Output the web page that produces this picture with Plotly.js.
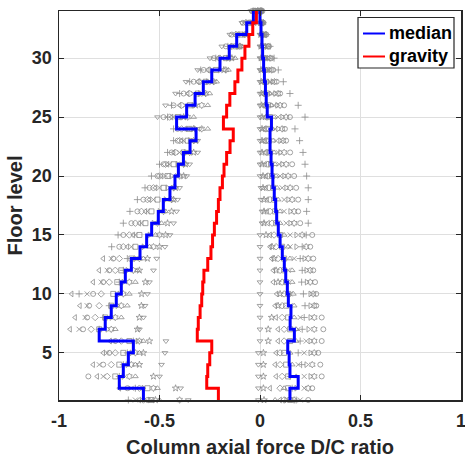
<!DOCTYPE html>
<html>
<head>
<meta charset="utf-8">
<script src="https://cdn.plot.ly/plotly-3.0.1.min.js"></script>
<style>html,body{margin:0;padding:0;background:#fff;}#chart{width:465px;height:459px;}</style>
</head>
<body>
<div id="chart"></div>
<script>
// Floor levels (rows)
const floors = [1,2,3,4,5,6,7,8,9,10,11,12,13,14,15,16,17,18,19,20,21,22,23,24,25,26,27,28,29,30,31,32,33,34];

// Median stair values (value holds from floor i up to floor i+1)
const medianLeft = [-0.58,-0.70,-0.68,-0.655,-0.63,-0.80,-0.77,-0.74,-0.715,-0.69,-0.67,-0.64,-0.597,-0.564,-0.539,-0.506,-0.481,-0.448,-0.423,-0.406,-0.381,-0.348,-0.318,-0.415,-0.365,-0.323,-0.282,-0.24,-0.199,-0.153,-0.116,-0.066,-0.033,-0.033];
const medianRight = [0.149,0.19,0.149,0.145,0.138,0.171,0.15,0.154,0.141,0.136,0.128,0.121,0.111,0.10,0.091,0.083,0.078,0.071,0.064,0.06,0.055,0.05,0.05,0.057,0.036,0.031,0.027,0.022,0.018,0.013,0.01,0.005,0.0,0.0];
const gravity = [-0.207,-0.265,-0.26,-0.25,-0.24,-0.312,-0.307,-0.298,-0.29,-0.285,-0.279,-0.26,-0.244,-0.236,-0.227,-0.216,-0.207,-0.199,-0.187,-0.179,-0.166,-0.149,-0.133,-0.182,-0.166,-0.15,-0.125,-0.11,-0.09,-0.075,-0.055,-0.036,-0.018,-0.018];

// Individual record results (left = compression side, right = tension side)
const recPlusL = [-0.655,-0.62,-0.70,-0.68,-0.66,-0.63,-0.80,-0.78,-0.75,-0.90,-0.70,-0.68,-0.66,-0.738,-0.706,-0.68,-0.647,-0.61,-0.572,-0.54,-0.50,-0.46,-0.43,-0.43,-0.46,-0.44,-0.40,-0.35,-0.295,-0.22,-0.16,-0.12,-0.07,-0.035];
const recTriDownL = [-0.357,-0.395,-0.50,-0.49,-0.473,-0.468,-0.60,-0.58,-0.572,-0.56,-0.55,-0.53,-0.514,-0.473,-0.448,-0.43,-0.415,-0.41,-0.40,-0.365,-0.35,-0.31,-0.31,-0.30,-0.51,-0.47,-0.42,-0.368,-0.31,-0.249,-0.19,-0.15,-0.09,-0.045];
const recStarL = [-0.52,-0.42,-0.53,-0.60,-0.58,-0.55,-0.61,-0.60,-0.59,-0.589,-0.57,-0.60,-0.56,-0.50,-0.47,-0.46,-0.44,-0.43,-0.42,-0.38,-0.37,-0.33,-0.32,-0.33,-0.38,-0.32,-0.28,-0.24,-0.18,-0.14,-0.10,-0.07,-0.03,-0.01];
const recTriLeftL = [-0.60,-0.70,-0.81,-0.83,-0.78,-0.746,-0.945,-0.92,-0.896,-0.937,-0.83,-0.80,-0.78,-0.66,-0.63,-0.60,-0.57,-0.55,-0.52,-0.49,-0.46,-0.43,-0.39,-0.37,-0.44,-0.40,-0.36,-0.31,-0.26,-0.21,-0.15,-0.11,-0.06,-0.03];
const recCircleL = [-0.56,-0.66,-0.854,-0.78,-0.75,-0.72,-0.88,-0.86,-0.85,-0.83,-0.78,-0.75,-0.73,-0.70,-0.68,-0.64,-0.61,-0.58,-0.55,-0.51,-0.48,-0.44,-0.41,-0.41,-0.48,-0.43,-0.38,-0.33,-0.28,-0.23,-0.17,-0.14,-0.085,-0.04];
const recDiamondL = [-0.58,-0.60,-0.76,-0.74,-0.72,-0.69,-0.84,-0.82,-0.80,-0.79,-0.75,-0.72,-0.70,-0.68,-0.65,-0.62,-0.59,-0.56,-0.53,-0.50,-0.47,-0.42,-0.40,-0.39,-0.45,-0.39,-0.35,-0.30,-0.25,-0.20,-0.14,-0.12,-0.07,-0.03];
const recSquareL = [-0.54,-0.56,-0.72,-0.70,-0.68,-0.65,-0.80,-0.77,-0.74,-0.73,-0.71,-0.69,-0.64,-0.62,-0.60,-0.57,-0.54,-0.51,-0.48,-0.46,-0.43,-0.38,-0.36,-0.35,-0.41,-0.35,-0.31,-0.27,-0.22,-0.17,-0.12,-0.10,-0.05,-0.02];
const recTriUpL = [-0.50,-0.51,-0.62,-0.62,-0.60,-0.58,-0.72,-0.69,-0.66,-0.65,-0.62,-0.61,-0.58,-0.55,-0.52,-0.49,-0.47,-0.45,-0.44,-0.42,-0.40,-0.36,-0.34,-0.26,-0.33,-0.26,-0.25,-0.216,-0.157,-0.124,-0.09,-0.066,-0.025,-0.005];
const recXL = [-0.62,-0.64,-0.78,-0.80,-0.76,-0.73,-0.90,-0.87,-0.86,-0.86,-0.79,-0.76,-0.74,-0.64,-0.62,-0.59,-0.56,-0.53,-0.50,-0.47,-0.45,-0.40,-0.38,-0.36,-0.43,-0.37,-0.33,-0.29,-0.24,-0.19,-0.13,-0.09,-0.055,-0.025];
const recTriRightL = [-0.55,-0.58,-0.68,-0.66,-0.64,-0.61,-0.76,-0.74,-0.71,-0.70,-0.68,-0.66,-0.62,-0.58,-0.55,-0.53,-0.50,-0.47,-0.46,-0.44,-0.41,-0.37,-0.35,-0.32,-0.39,-0.33,-0.30,-0.26,-0.20,-0.16,-0.11,-0.08,-0.04,-0.015];
const recHexL = [-0.40,-0.53,-0.65,-0.64,-0.62,-0.60,-0.74,-0.72,-0.69,-0.68,-0.65,-0.63,-0.60,-0.53,-0.50,-0.51,-0.48,-0.44,-0.43,-0.40,-0.38,-0.35,-0.33,-0.29,-0.36,-0.29,-0.27,-0.23,-0.17,-0.15,-0.10,-0.075,-0.035,-0.012];

const recPlusR = [0.18,0.16,0.15,0.207,0.19,0.20,0.21,0.22,0.224,0.216,0.207,0.21,0.20,0.21,0.23,0.24,0.232,0.24,0.24,0.232,0.224,0.214,0.197,0.174,0.224,0.19,0.149,0.116,0.091,0.07,0.05,0.033,0.017,0.01];
const recTriDownR = [-0.008,-0.008,-0.008,-0.008,-0.008,0,0,0,0,0,0,0,0,0,0,0.01,0.01,0.005,0.005,0,0,0,0,0,0,0,0,0,0,0,0,0,0,0];
const recStarR = [0.02,0.017,0.017,0.017,0.017,0.041,0.041,0.058,0.09,0.10,0.09,0.08,0.07,0.06,0.03,0.02,0.02,0.02,0.015,0.015,0.01,0.01,0.01,0.01,0.01,0.008,0.008,0.006,0.005,0.005,0.004,0.003,0.002,0.001];
const recTriLeftR = [0.10,0.05,0.08,0.075,0.08,0.09,0.09,0.08,0.075,0.083,0.066,0.066,0.058,0.05,0.05,0.04,0.035,0.035,0.03,0.03,0.025,0.025,0.02,0.02,0.025,0.018,0.015,0.012,0.01,0.01,0.008,0.006,0.004,0.002];
const recCircleR = [0.24,0.26,0.307,0.30,0.29,0.307,0.315,0.307,0.28,0.28,0.274,0.265,0.265,0.25,0.26,0.20,0.19,0.19,0.18,0.17,0.16,0.15,0.13,0.124,0.149,0.12,0.10,0.083,0.066,0.058,0.045,0.03,0.015,0.008];
const recDiamondR = [0.12,0.10,0.11,0.10,0.10,0.12,0.12,0.11,0.11,0.12,0.11,0.10,0.09,0.08,0.07,0.06,0.05,0.05,0.045,0.04,0.04,0.035,0.03,0.03,0.035,0.028,0.025,0.02,0.018,0.015,0.012,0.009,0.005,0.003];
const recSquareR = [0.15,0.14,0.14,0.13,0.12,0.15,0.15,0.14,0.13,0.14,0.13,0.12,0.12,0.11,0.10,0.08,0.075,0.07,0.065,0.06,0.055,0.05,0.045,0.045,0.05,0.04,0.035,0.03,0.025,0.02,0.017,0.012,0.007,0.004];
const recTriUpR = [0.075,0.12,0.18,0.16,0.15,0.18,0.18,0.17,0.17,0.166,0.16,0.16,0.149,0.14,0.12,0.10,0.10,0.09,0.085,0.08,0.075,0.07,0.065,0.06,0.07,0.055,0.048,0.04,0.033,0.028,0.022,0.016,0.009,0.005];
const recXR = [0.20,0.22,0.22,0.19,0.22,0.23,0.19,0.20,0.15,0.15,0.14,0.14,0.17,0.15,0.15,0.13,0.12,0.12,0.11,0.10,0.095,0.09,0.08,0.075,0.09,0.07,0.06,0.05,0.042,0.035,0.028,0.02,0.011,0.006];
const recTriRightR = [0.13,0.18,0.25,0.23,0.25,0.25,0.24,0.25,0.25,0.25,0.232,0.23,0.22,0.18,0.18,0.15,0.15,0.14,0.13,0.12,0.11,0.10,0.10,0.09,0.11,0.085,0.075,0.062,0.05,0.042,0.034,0.024,0.013,0.007];
const recHexR = [0.17,0.24,0.27,0.26,0.27,0.27,0.27,0.27,0.27,0.265,0.25,0.25,0.24,0.23,0.21,0.17,0.17,0.16,0.15,0.14,0.13,0.12,0.115,0.11,0.13,0.10,0.09,0.072,0.058,0.05,0.04,0.028,0.015,0.008];

// Axis ticks
const xTickVals = [-1,-0.5,0,0.5,1];
const xTickText = ['-1','-0.5','0','0.5','1'];
const yTickVals = [5,10,15,20,25,30];
const yTickText = ['5','10','15','20','25','30'];

// Legend entries
const legendNames = ['median','gravity'];
const legendColors = ['#0000ff','#ff0000'];

const records = [
  {sym:'cross-thin-open', L:recPlusL, R:recPlusR},
  {sym:'triangle-down-open', L:recTriDownL, R:recTriDownR},
  {sym:'star-open', L:recStarL, R:recStarR},
  {sym:'triangle-left-open', L:recTriLeftL, R:recTriLeftR},
  {sym:'circle-open', L:recCircleL, R:recCircleR},
  {sym:'diamond-open', L:recDiamondL, R:recDiamondR},
  {sym:'square-open', L:recSquareL, R:recSquareR},
  {sym:'triangle-up-open', L:recTriUpL, R:recTriUpR},
  {sym:'x-thin-open', L:recXL, R:recXR},
  {sym:'triangle-right-open', L:recTriRightL, R:recTriRightR},
  {sym:'hexagram-open', L:recHexL, R:recHexR}
];

const mk = 'rgb(140,140,140)';
const traces = [];
records.forEach(r => {
  traces.push({
    type:'scatter', mode:'markers',
    x: r.L.concat(r.R), y: floors.concat(floors),
    showlegend:false, hoverinfo:'skip', cliponaxis:false,
    marker:{symbol:r.sym, size:5, color:mk, line:{width:0.8, color:mk}}
  });
});
traces.push({type:'scatter', mode:'lines', name:legendNames[0], x:medianLeft, y:floors, showlegend:false,
  line:{color:legendColors[0], width:3, shape:'vh'}});
traces.push({type:'scatter', mode:'lines', name:legendNames[0], x:medianRight, y:floors, showlegend:false,
  line:{color:legendColors[0], width:3, shape:'vh'}});
traces.push({type:'scatter', mode:'lines', name:legendNames[1], x:gravity, y:floors, showlegend:false,
  line:{color:legendColors[1], width:3, shape:'vh'}});

// Legend box drawn in pixel-matched paper coordinates
const plotL = 59, plotW = 402, plotB = 400, plotH = 389;
const px = v => (v - plotL) / plotW;
const py = v => (plotB - v) / plotH;
const legRows = [33.5, 56.5];
const shapes = [
  {type:'rect', xref:'paper', yref:'paper', x0:px(358), x1:px(454), y0:py(68), y1:py(17.5),
   line:{color:'#262626', width:1.2}, fillcolor:'#ffffff', layer:'above'}
];
const annotations = [];
legendNames.forEach((n, i) => {
  shapes.push({type:'line', xref:'paper', yref:'paper', x0:px(363), x1:px(385), y0:py(legRows[i]), y1:py(legRows[i]),
    line:{color:legendColors[i], width:2}, layer:'above'});
  annotations.push({xref:'paper', yref:'paper', x:px(387), y:py(legRows[i]), xanchor:'left', yanchor:'middle',
    text:n, showarrow:false, font:{family:'"Liberation Sans", Arial, sans-serif', size:18, weight:'bold', color:'#000000'}});
});

const fam = '"Liberation Sans", Arial, Helvetica, sans-serif';
const axisCommon = {
  ticks:'inside', ticklen:5, tickwidth:1, tickcolor:'#262626',
  showline:true, linecolor:'#262626', linewidth:1.5, mirror:'ticks',
  showgrid:true, gridcolor:'#dfdfdf', gridwidth:1, zeroline:false,
  tickfont:{family:fam, size:18, weight:'bold', color:'#262626'},
  tickmode:'array', fixedrange:true, ticklabeloverflow:'allow'
};
const layout = {
  width:465, height:459,
  margin:{l:59, r:4, t:11, b:59, pad:0},
  paper_bgcolor:'#ffffff', plot_bgcolor:'#ffffff',
  font:{family:fam, color:'#262626'},
  showlegend:false,
  xaxis:Object.assign({}, axisCommon, {
    range:[-1,1], tickvals:xTickVals, ticktext:xTickText, ticklabelstandoff:4,
    title:{text:'Column axial force D/C ratio', font:{family:fam, size:20, weight:'bold', color:'#262626'}, standoff:10}
  }),
  yaxis:Object.assign({}, axisCommon, {
    range:[1,34], tickvals:yTickVals, ticktext:yTickText, ticklabelstandoff:2,
    title:{text:'Floor level', font:{family:fam, size:20, weight:'bold', color:'#262626'}, standoff:4}
  }),
  shapes:shapes,
  annotations:annotations
};
Plotly.newPlot('chart', traces, layout, {staticPlot:true, displayModeBar:false});
</script>
</body>
</html>
